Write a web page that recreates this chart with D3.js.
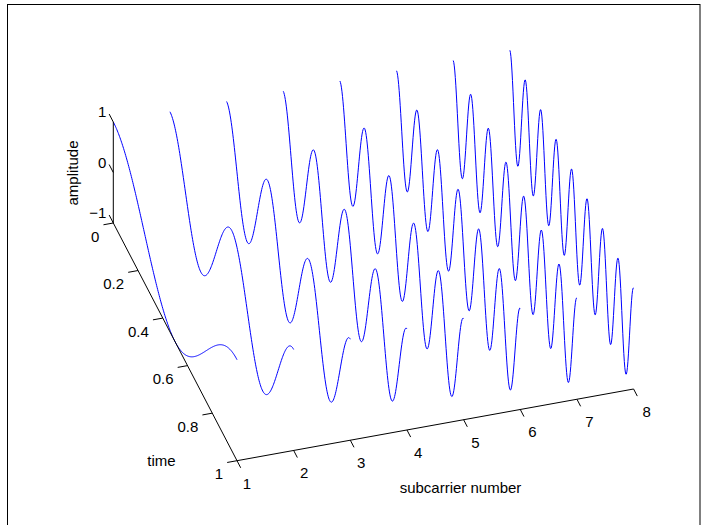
<!DOCTYPE html>
<meta charset="utf-8">
<style>
body { margin: 0; background: #fff; }
svg { display: block; font-family: "Liberation Sans", Arial, Helvetica, sans-serif; }
.lbl { font-size: 15px; fill: #000; }
</style>
<svg width="707" height="525"></svg>
<script src="https://d3js.org/d3.v7.min.js"></script>
<script>

// subcarrier numbers and how many cosine periods each one runs over the symbol
var subcarriers = [1, 2, 3, 4, 5, 6, 7, 8];
var cycles = [1, 2, 3, 4, 5, 6, 7, 8];
var timeTicks = [0, 0.2, 0.4, 0.6, 0.8, 1];
var ampTicks = [-1, 0, 1];
var nSamples = 240;

var svg = d3.select("svg");

// figure frame
svg.append("rect")
    .attr("x", 7.5).attr("y", 4.5)
    .attr("width", 692.5).attr("height", 560)
    .attr("fill", "none").attr("stroke", "#000");

// each data dimension to 0..1 of the box
var x = d3.scaleLinear().domain([1, 8]).range([0, 1]);
var t = d3.scaleLinear().domain([0, 1]).range([0, 1]);
var z = d3.scaleLinear().domain([-1, 1]).range([0, 1]);

// orthographic view: box corner and edge vectors on screen
var origin = [113.3, 223],
    ex = [396.6, -71.7],
    et = [123.7, 237.7],
    ez = [0, -101];

function project(sc, tm, amp) {
  var u = x(sc), v = t(tm), w = z(amp);
  return [origin[0] + u * ex[0] + v * et[0] + w * ez[0],
          origin[1] + u * ex[1] + v * et[1] + w * ez[1]];
}

var line = d3.line()
    .x(function(d) { return d[0]; })
    .y(function(d) { return d[1]; });

// waveforms
var tSamples = d3.range(nSamples + 1).map(function(i) { return i / nSamples; });
svg.append("g")
    .selectAll("path")
    .data(subcarriers)
    .enter().append("path")
      .attr("fill", "none")
      .attr("stroke", "#0000ff")
      .attr("stroke-width", 1)
      .attr("d", function(k, i) {
        return line(tSamples.map(function(tm) {
          return project(k, tm, Math.cos(2 * Math.PI * cycles[i] * tm));
        }));
      });

var axes = svg.append("g").attr("stroke", "#000").attr("fill", "none");

function seg(a, b) {
  axes.append("line")
      .attr("x1", a[0]).attr("y1", a[1])
      .attr("x2", b[0]).attr("y2", b[1]);
}

// axis lines
seg(project(1, 0, -1), project(1, 0, 1));
seg(project(1, 0, -1), project(1, 1, -1));
seg(project(1, 1, -1), project(8, 1, -1));

function unit(v, len) {
  var n = Math.sqrt(v[0] * v[0] + v[1] * v[1]);
  return [v[0] / n * len, v[1] / n * len];
}
var zTickDir = unit([-et[0], -et[1]], 9),
    tTickDir = unit([-ex[0], -ex[1]], 10),
    xTickDir = unit(et, 8);

var labels = svg.append("g");

// amplitude ticks
ampTicks.forEach(function(a) {
  var p = project(1, 0, a);
  seg(p, [p[0] + zTickDir[0], p[1] + zTickDir[1]]);
  labels.append("text").attr("class", "lbl")
      .attr("x", p[0] - 7).attr("y", p[1] - 5)
      .attr("text-anchor", "end")
      .text(a < 0 ? "\u22121" : a);
});

// time ticks
timeTicks.forEach(function(tm) {
  var p = project(1, tm, -1);
  seg(p, [p[0] + tTickDir[0], p[1] + tTickDir[1]]);
  labels.append("text").attr("class", "lbl")
      .attr("x", p[0] - 14).attr("y", p[1] + 18.5)
      .attr("text-anchor", "end")
      .text(tm);
});

// subcarrier ticks
subcarriers.forEach(function(k) {
  var p = project(k, 1, -1);
  seg(p, [p[0] + xTickDir[0], p[1] + xTickDir[1]]);
  labels.append("text").attr("class", "lbl")
      .attr("x", p[0] + 10 + x(k) * 3).attr("y", p[1] + 28)
      .attr("text-anchor", "middle")
      .text(k);
});

// axis titles
labels.append("text").attr("class", "lbl")
    .attr("text-anchor", "middle")
    .attr("transform", "translate(78,173) rotate(-90)")
    .text("amplitude");

labels.append("text").attr("class", "lbl")
    .attr("x", 161.5).attr("y", 466)
    .attr("text-anchor", "middle")
    .text("time");

labels.append("text").attr("class", "lbl")
    .attr("x", 460.5).attr("y", 493)
    .attr("text-anchor", "middle")
    .text("subcarrier number");

</script>
